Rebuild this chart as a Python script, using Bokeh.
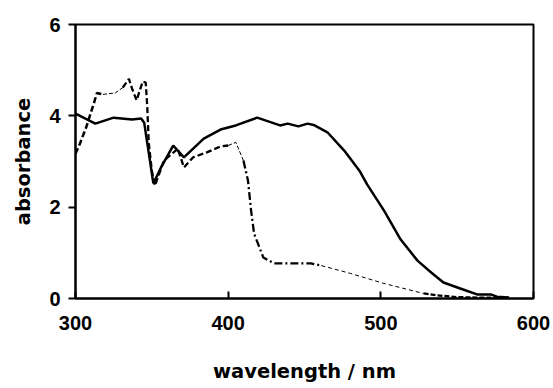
from bokeh.plotting import figure
from bokeh.embed import file_html
from bokeh.resources import INLINE
from bokeh.models import FixedTicker, Range1d

# Solid series
wl1 = [300, 313, 325, 337, 343, 345, 351, 356, 364, 371, 384, 395, 405, 419, 434, 439,
       446, 452, 456, 465, 476, 486, 491, 502, 513, 524, 533, 541, 552, 563, 572, 576, 584]
ab1 = [4.05, 3.83, 3.96, 3.92, 3.94, 3.85, 2.52, 2.87, 3.35, 3.09, 3.5, 3.7, 3.79, 3.96, 3.79, 3.83,
       3.77, 3.83, 3.8, 3.64, 3.24, 2.8, 2.5, 1.93, 1.29, 0.83, 0.57, 0.35, 0.22, 0.09, 0.09, 0.04, 0.02]

# Dashed series
wl2 = [300, 303, 307, 312, 314, 318, 326, 331, 335, 337, 340, 344, 346, 347, 348, 350, 352, 358,
       367, 371, 377, 386, 395, 400, 405, 410, 413, 415, 417, 423, 430, 454, 461, 480, 502, 528,
       537, 550, 565, 581]
ab2 = [3.17, 3.4, 3.75, 4.27, 4.5, 4.47, 4.5, 4.62, 4.81, 4.6, 4.34, 4.75, 4.73, 4.2, 3.4, 2.8, 2.47, 3.02,
       3.28, 2.87, 3.09, 3.2, 3.33, 3.35, 3.42, 3.02, 2.58, 1.93, 1.42, 0.9, 0.77, 0.77, 0.72, 0.55, 0.33, 0.11,
       0.07, 0.03, 0.02, 0.02]

x_ticks = [300, 400, 500, 600]
y_ticks = [0, 2, 4, 6]

TICK_FONT = "Liberation Sans"
LABEL_FONT = "DejaVu Sans"

p = figure(width=550, height=388, output_backend="svg", toolbar_location=None,
           x_range=Range1d(300, 600), y_range=Range1d(0, 6),
           min_border_left=75, min_border_top=24, min_border_right=17, min_border_bottom=90)
p.grid.visible = False
p.outline_line_color = "black"
p.outline_line_width = 2
p.background_fill_color = "white"
p.border_fill_color = "white"

p.xaxis.ticker = FixedTicker(ticks=x_ticks)
p.yaxis.ticker = FixedTicker(ticks=y_ticks)
p.xaxis.minor_tick_line_color = None
p.yaxis.minor_tick_line_color = None
for ax in (p.xaxis, p.yaxis):
    ax.axis_line_width = 2
    ax.major_tick_line_width = 2
    ax.major_label_text_font = TICK_FONT
    ax.major_label_text_font_style = "bold"
    ax.major_label_text_font_size = "20px"
    ax.major_label_text_color = "black"
    ax.axis_label_text_font = LABEL_FONT
    ax.axis_label_text_font_style = "bold"
    ax.axis_label_text_font_size = "19.5px"
    ax.axis_label_text_color = "black"

p.xaxis.major_tick_in = 7
p.xaxis.major_tick_out = 0
p.xaxis.major_label_standoff = 17
p.xaxis.axis_label = "wavelength / nm"
p.xaxis.axis_label_standoff = 27

p.yaxis.major_tick_in = 0
p.yaxis.major_tick_out = 7
p.yaxis.major_label_standoff = 8
p.yaxis.axis_label = "absorbance"
p.yaxis.axis_label_standoff = 11

# solid line
p.line(wl1, ab1, line_color="black", line_width=2.5)

# dashed line drawn in pieces of varying weight
segments = [
    (0, 6, 2.5, "6 3"),
    (5, 8, 1.0, "4 2"),
    (7, 24, 2.3, "6 3"),
    (23, 26, 1.0, "4 2"),
    (25, 33, 2.3, "8 3 2 3"),
    (32, 36, 1.0, "4 3"),
    (35, 40, 2.3, "5 2"),
]
for a, b, w, d in segments:
    p.line(wl2[a:b], ab2[a:b], line_color="black", line_width=w, line_dash=d)

open("out.html", "w").write(file_html(p, INLINE))
